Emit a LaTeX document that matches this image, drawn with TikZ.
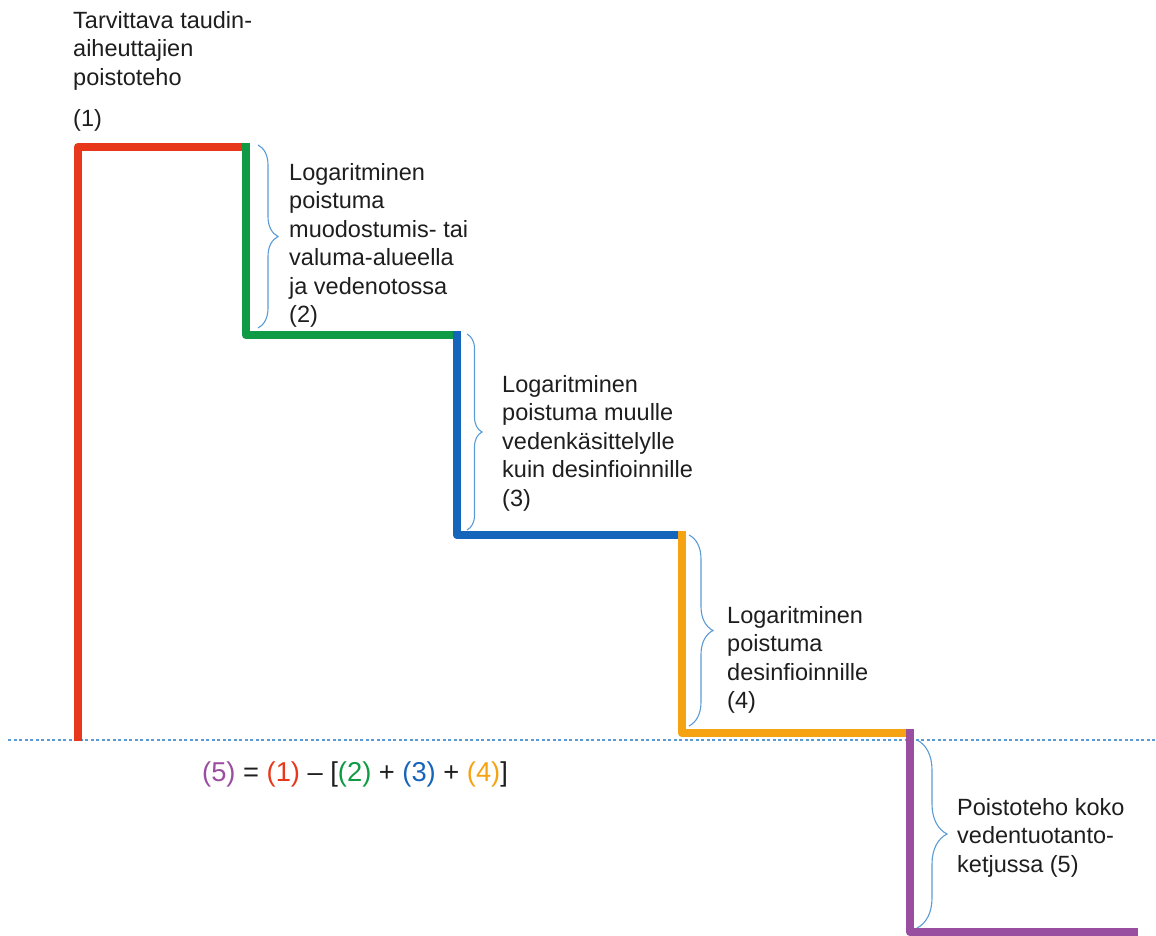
\documentclass[tikz,border=0pt]{standalone}
\usepackage{fontspec}
\setmainfont{Liberation Sans}
\usetikzlibrary{decorations.pathreplacing}

\definecolor{rosso}{HTML}{E8381B}
\definecolor{verde}{HTML}{0F9B45}
\definecolor{blu}{HTML}{1565BA}
\definecolor{arancio}{HTML}{F6A313}
\definecolor{viola}{HTML}{9A4E9F}
\definecolor{azzurro}{HTML}{5B9BD5}
\definecolor{testoc}{HTML}{1E1E1E}

\begin{document}
\begin{tikzpicture}[x=1pt,y=-1pt,
  gradino/.style={line width=8.5pt, line cap=rect, line join=round},
  graffa/.style={azzurro, line width=1.1pt, decorate, decoration={brace, amplitude=#1}},
  graffa/.default=20,
  testo/.style={anchor=north west, inner sep=0pt, align=left, text=testoc,
    font=\fontsize{23.5}{28.5}\selectfont}]

\useasboundingbox (0,0) rectangle (1156,936);

%angoli della scala
\coordinate (base) at (78,737);
\coordinate (a1) at (78,147);
\coordinate (a2) at (246,147);
\coordinate (a3) at (246,335);
\coordinate (a4) at (457,335);
\coordinate (a5) at (457,535);
\coordinate (a6) at (682,535);
\coordinate (a7) at (682,733);
\coordinate (a8) at (910,733);
\coordinate (a9) at (910,932);
\coordinate (a10) at (1134,932);

%linea di riferimento
\coordinate (lx) at (8,740);
\coordinate (rx) at (1156,740);
\draw[azzurro, line width=1.2pt, dash pattern=on 3pt off 2.5pt] (lx) -- (rx);

%gradini
\draw[gradino, rosso] (base) -- (a1) -- (a2);
\draw[gradino, verde] (a2) -- (a3) -- (a4);
\draw[gradino, blu] (a4) -- (a5) -- (a6);
\draw[gradino, arancio] (a6) -- (a7) -- (a8);
\draw[gradino, viola] (a8) -- (a9) -- (a10);

%graffe
\coordinate (g1a) at (258,145);
\coordinate (g1b) at (258,328);
\draw[graffa=20] (g1a) -- (g1b);

\coordinate (g2a) at (467,334);
\coordinate (g2b) at (467,530);
\draw[graffa=15] (g2a) -- (g2b);

\coordinate (g3a) at (689,535);
\coordinate (g3b) at (689,726);
\draw[graffa=24] (g3a) -- (g3b);

\coordinate (g4a) at (917,740);
\coordinate (g4b) at (917,928);
\draw[graffa=30] (g4a) -- (g4b);

%testi
\node[testo] at (73,11) (lbl1) {Tarvittava taudin-\\ aiheuttajien\\ poistoteho\\[12.5pt] (1)};
\node[testo] at (289,163) (lbl2) {Logaritminen\\ poistuma\\ muodostumis- tai\\ valuma-alueella\\ ja vedenotossa\\ (2)};
\node[testo] at (502,375) (lbl3) {Logaritminen\\ poistuma muulle\\ vedenkäsittelylle\\ kuin desinfioinnille\\ (3)};
\node[testo] at (727,606) (lbl4) {Logaritminen\\ poistuma\\ desinfioinnille\\ (4)};
\node[testo] at (957,798) (lbl5) {Poistoteho koko\\ vedentuotanto-\\ ketjussa (5)};

%formula
\node[anchor=base west, inner sep=0pt, text=testoc, font=\fontsize{27.3}{32}\selectfont] at (202,781) (formula)
  {\textcolor{viola}{(5)} = \textcolor{rosso}{(1)} – [\textcolor{verde}{(2)} + \textcolor{blu}{(3)} + \textcolor{arancio}{(4)}]};

\end{tikzpicture}
\end{document}
